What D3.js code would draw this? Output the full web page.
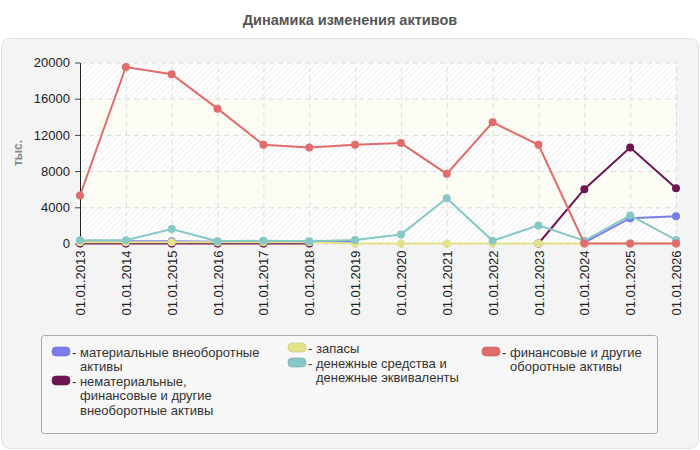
<!DOCTYPE html>
<html>
<head>
<meta charset="utf-8">
<script src="https://cdn.jsdelivr.net/npm/d3@7"></script>
<style>
  body { margin: 0; background: #fff; }
  text { font-family: "Liberation Sans", Arial, sans-serif; }
</style>
</head>
<body>
<svg id="chart" width="700" height="450"></svg>
<script>
const dates = ['01.01.2013', '01.01.2014', '01.01.2015', '01.01.2016', '01.01.2017', '01.01.2018', '01.01.2019',
    '01.01.2020', '01.01.2021', '01.01.2022', '01.01.2023', '01.01.2024', '01.01.2025', '01.01.2026']

const tangible = [200, 250, 250, 200, 200, 200, 200, null, null, null, null, 100, 2800, 3000]
const intangible = [0, 0, 0, 0, 0, 0, null, null, null, null, 0, 6000, 10600, 6100]
const stocks = [150, 150, 150, 150, 150, 150, 0, 0, 0, 0, 0, 0, 0, 0]
const cash = [350, 350, 1600, 250, 300, 250, 400, 1000, 5000, 300, 2000, 300, 3100, 400]
const financial = [5300, 19500, 18700, 14900, 10900, 10600, 10900, 11100, 7700, 13400, 10900, 0, 0, 0]

const yTicks = [0, 4000, 8000, 12000, 16000, 20000]

const series = [
    { name: ['- материальные внеоборотные', 'активы'], color: '#7b7bea', values: tangible },
    { name: ['- нематериальные,', 'финансовые и другие', 'внеоборотные активы'], color: '#6e1553', values: intangible },
    { name: ['- запасы'], color: '#e3e38c', values: stocks },
    { name: ['- денежные средства и', 'денежные эквиваленты'], color: '#86c8c5', values: cash },
    { name: ['- финансовые и другие', 'оборотные активы'], color: '#e06c6c', values: financial }
]

const SVG = d3.select('#chart')
const Margin = { top: 62, bottom: 207, left: 80, right: 24 }
const Width = 700
const Height = 450

// title
SVG.append('text')
    .text('Динамика изменения активов')
    .attr('x', Width / 2)
    .attr('y', 25)
    .style('text-anchor', 'middle')
    .style('font-weight', 700)
    .style('font-size', '14.5px')
    .style('fill', '#555')

// panel
SVG.append('rect')
    .attr('x', 1.5).attr('y', 38.5)
    .attr('width', 697).attr('height', 410)
    .attr('rx', 8).attr('ry', 8)
    .style('fill', '#f4f4f4')
    .style('stroke', '#e2e2e2')

const xscale = d3.scalePoint()
    .domain(dates)
    .range([Margin.left, Width - Margin.right])

const yscale = d3.scaleLinear()
    .domain([0, 20000])
    .range([243.5, 62.5])

// plot background: hatched and pale bands
const defs = SVG.append('defs')
const hatch = defs.append('pattern')
    .attr('id', 'hatch')
    .attr('width', 4).attr('height', 4)
    .attr('patternUnits', 'userSpaceOnUse')
    .attr('patternTransform', 'rotate(45)')
hatch.append('rect').attr('width', 4).attr('height', 4).style('fill', '#ffffff')
hatch.append('line').attr('x1', 0).attr('y1', 0).attr('x2', 0).attr('y2', 4)
    .style('stroke', '#ececec').style('stroke-width', 1.6)

for (let i = 0; i < yTicks.length - 1; i++) {
    SVG.append('rect')
        .attr('x', xscale.range()[0])
        .attr('y', yscale(yTicks[i + 1]))
        .attr('width', xscale.range()[1] - xscale.range()[0])
        .attr('height', yscale(yTicks[i]) - yscale(yTicks[i + 1]))
        .style('fill', i % 2 == 0 ? 'url(#hatch)' : '#fcfcf4')
}

// grid
const xGrid = d3.axisBottom(xscale).tickSize(-(yscale(0) - yscale(20000))).tickFormat('')
const yGrid = d3.axisLeft(yscale).tickValues(yTicks).tickSize(-(xscale.range()[1] - xscale.range()[0])).tickFormat('')

SVG.append('g')
    .attr('transform', `translate(0, ${yscale(0)})`)
    .call(xGrid)
    .call(g => g.select('.domain').remove())
    .call(g => g.selectAll('line').style('stroke', '#dcdcdc').style('stroke-dasharray', '5,4'))

SVG.append('g')
    .attr('transform', `translate(${Margin.left}, 0)`)
    .call(yGrid)
    .call(g => g.select('.domain').remove())
    .call(g => g.selectAll('line').style('stroke', '#dcdcdc').style('stroke-dasharray', '5,4'))

// axes
const left = d3.axisLeft(yscale).tickValues(yTicks).tickFormat(d3.format('d'))
    .tickSizeInner(5).tickSizeOuter(0).tickPadding(5)
const bottom = d3.axisBottom(xscale).tickSizeInner(4).tickSizeOuter(0).tickPadding(7)

SVG.append('g')
    .attr('transform', `translate(${Margin.left}, 0)`)
    .call(left)
    .call(g => g.select('.domain').style('stroke', '#222'))
    .call(g => g.selectAll('line').style('stroke', '#444'))
    .call(g => g.selectAll('text').style('font-size', '13px').style('fill', '#222').attr('font-family', null))

SVG.append('g')
    .attr('transform', `translate(0, ${yscale(0)})`)
    .call(bottom)
    .call(g => g.select('.domain').remove())
    .call(g => g.selectAll('line').style('stroke', '#444'))
    .call(g => g.selectAll('text')
        .attr('transform', 'rotate(-90)')
        .attr('x', -7).attr('y', 0).attr('dy', '0.35em')
        .style('text-anchor', 'end')
        .style('font-size', '13px').style('fill', '#222').attr('font-family', null))

SVG.append('text')
    .text('тыс.')
    .attr('transform', `translate(22, ${(yscale(0) + yscale(20000)) / 2}) rotate(-90)`)
    .style('text-anchor', 'middle')
    .style('font-weight', 700)
    .style('font-size', '12px')
    .style('fill', '#888')

// lines and markers
const line = d3.line()
    .defined(d => d != null)
    .x((d, i) => xscale(dates[i]))
    .y(d => yscale(d))

for (const s of series) {
    SVG.append('path')
        .datum(s.values)
        .attr('d', line)
        .style('fill', 'none')
        .style('stroke', s.color)
        .style('stroke-width', 2)

    SVG.append('g')
        .selectAll('circle')
        .data(s.values.map((v, i) => ({ v: v, d: dates[i] })).filter(p => p.v != null))
        .join('circle')
        .attr('cx', p => xscale(p.d))
        .attr('cy', p => yscale(p.v))
        .attr('r', 4)
        .style('fill', s.color)
}

// legend
SVG.append('rect')
    .attr('x', 41.5).attr('y', 335.5)
    .attr('width', 616).attr('height', 98)
    .attr('rx', 3).attr('ry', 3)
    .style('fill', '#f7f7f7')
    .style('stroke', '#aaa')

const legendPos = [
    { x: 52, y: 347 },
    { x: 52, y: 376 },
    { x: 288, y: 343 },
    { x: 288, y: 358 },
    { x: 482, y: 347 }
]

series.forEach((s, k) => {
    let p = legendPos[k]
    SVG.append('rect')
        .attr('x', p.x).attr('y', p.y)
        .attr('width', 18).attr('height', 9)
        .attr('rx', 4).attr('ry', 4)
        .style('fill', s.color)
        .style('stroke', d3.color(s.color).darker(0.4))
        .style('stroke-width', 0.6)

    s.name.forEach((t, j) => {
        SVG.append('text')
            .text(t)
            .attr('x', j == 0 ? p.x + 20 : p.x + 28)
            .attr('y', p.y + 9.5 + j * 14.8)
            .style('font-size', '13px')
            .style('fill', '#333')
    })
})
</script>
</body>
</html>
